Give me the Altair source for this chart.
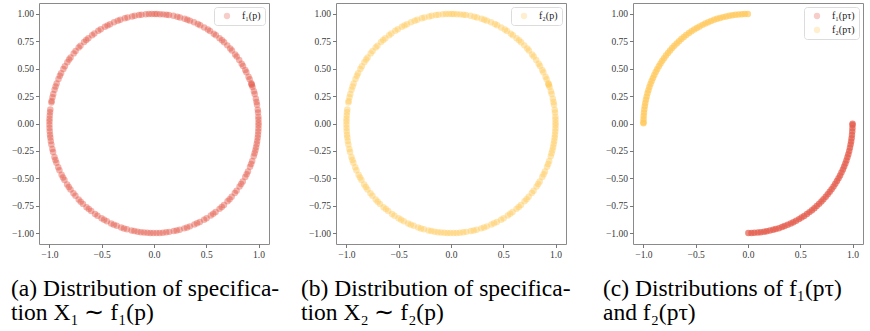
import altair as alt
import numpy as np
import pandas as pd

angles_spec = [0.4, 2.1, 3.5, 5.8, 7.2, 9.9, 11.3, 13.0, 15.6, 17.1, 19.4, 20.6, 21.0, 21.5, 23.8,
               25.3, 27.9, 29.2, 31.6, 33.0, 35.4, 37.7, 39.1, 41.8, 43.2, 45.5, 47.9, 49.4, 51.2,
               53.7, 55.1, 57.6, 59.0, 61.3, 63.8, 65.2, 67.5, 69.9, 71.4, 73.0, 75.6, 77.1, 79.3,
               81.8, 83.2, 85.0, 86.7, 88.4, 89.6, 91.2, 92.8, 94.5, 96.9, 98.3, 100.6, 102.1,
               104.7, 106.2, 108.8, 110.3, 112.5, 114.9, 116.4, 118.0, 120.6, 122.2, 124.8, 126.3,
               128.9, 130.4, 132.0, 134.7, 136.1, 138.6, 140.2, 142.9, 144.3, 146.0, 148.5, 150.1,
               152.7, 154.2, 156.0, 158.6, 160.3, 162.0, 164.4, 166.1, 168.2, 168.9, 172.6, 174.1,
               175.8, 177.5, 179.0, 180.6, 182.3, 184.1, 185.9, 187.4, 189.2, 191.0, 193.5, 195.1,
               197.8, 199.4, 201.0, 203.6, 205.2, 207.9, 209.5, 211.1, 213.8, 215.4, 217.0, 219.6,
               221.3, 223.9, 225.5, 227.2, 229.8, 231.4, 233.1, 235.7, 237.3, 239.9, 241.5, 243.2,
               245.8, 247.4, 249.1, 251.7, 253.3, 255.0, 257.6, 259.2, 261.0, 262.8, 264.5, 266.3,
               268.0, 269.6, 271.4, 273.1, 274.9, 276.7, 278.4, 280.9, 282.5, 284.2, 286.8, 288.4,
               290.1, 292.7, 294.3, 296.0, 298.6, 300.2, 302.9, 304.5, 306.1, 308.8, 310.4, 312.0,
               314.7, 316.3, 318.0, 320.6, 322.2, 324.9, 326.5, 328.1, 330.8, 332.4, 334.0, 336.7,
               338.3, 340.0, 342.6, 344.2, 345.9, 347.5, 349.2, 350.8, 352.5, 354.1, 355.8, 357.4,
               359.1]

angles_tau1 = [-89.8, -88.1, -86.5, -84.6, -83.0, -81.2, -79.7, -77.9, -76.1, -74.6, -72.8, -71.0,
               -69.5, -67.7, -65.9, -64.3, -62.6, -60.8, -59.2, -57.5, -55.7, -54.0, -52.3, -50.6,
               -48.9, -47.1, -45.4, -43.8, -42.0, -40.3, -38.6, -36.9, -35.1, -33.4, -31.7, -30.0,
               -28.3, -26.6, -24.8, -23.1, -21.4, -19.7, -18.0, -16.3, -14.5, -12.8, -11.1, -9.4,
               -7.7, -6.0, -4.2, -2.5, -0.8, -0.1]
angles_tau2 = [90.1, 91.8, 93.4, 95.2, 96.9, 98.6, 100.3, 102.1, 103.8, 105.5, 107.2, 108.9,
               110.7, 112.4, 114.1, 115.8, 117.6, 119.3, 121.0, 122.7, 124.4, 126.2, 127.9, 129.6,
               131.3, 133.0, 134.8, 136.5, 138.2, 139.9, 141.7, 143.4, 145.1, 146.8, 148.5, 150.3,
               152.0, 153.7, 155.4, 157.2, 158.9, 160.6, 162.3, 164.0, 165.8, 167.5, 169.2, 170.9,
               172.7, 174.4, 176.1, 177.8, 179.3, 179.9]

labels_a = ["f₁(p)"]
labels_b = ["f₂(p)"]
labels_c = ["f₁(pτ)", "f₂(pτ)"]
red = "#E45B4B"
yellow = "#FFC95C"

captions = [
    ["(a) Distribution of specifica-", "tion X₁ ∼ f₁(p)"],
    ["(b) Distribution of specifica-", "tion X₂ ∼ f₂(p)"],
    ["(c) Distributions of f₁(pτ)", "and f₂(pτ)"],
]

x_ticks = [-1.0, -0.5, 0.0, 0.5, 1.0]
y_ticks = [-1.0, -0.75, -0.5, -0.25, 0.0, 0.25, 0.5, 0.75, 1.0]

SERIF = "Liberation Serif"


def to_df(angles, label):
    a = np.radians(np.array(angles))
    return pd.DataFrame({"x": np.cos(a), "y": np.sin(a), "series": label})


def panel(df, labels, colors, caption, dx, opacity):
    return alt.Chart(df).mark_circle(size=42, opacity=opacity, strokeWidth=0).encode(
        x=alt.X("x:Q", scale=alt.Scale(domain=[-1.1, 1.1], nice=False, zero=False),
                axis=alt.Axis(values=x_ticks, format=".1f", title=None)),
        y=alt.Y("y:Q", scale=alt.Scale(domain=[-1.1, 1.1], nice=False, zero=False),
                axis=alt.Axis(values=y_ticks, format=".2f", title=None)),
        color=alt.Color("series:N", scale=alt.Scale(domain=labels, range=colors),
                        legend=alt.Legend(title=None, orient="top-right", offset=4,
                                          symbolOpacity=0.3)),
    ).properties(
        width=230, height=241,
        title=alt.TitleParams(text=caption, orient="bottom", anchor="start", frame="group",
                              dx=dx, offset=18, font=SERIF, fontSize=23.5,
                              fontWeight="normal", color="black", lineHeight=24, baseline="top"),
    )


p1 = panel(to_df(angles_spec, labels_a[0]), labels_a, [red], captions[0], -28, 0.45)
p2 = panel(to_df(angles_spec, labels_b[0]), labels_b, [yellow], captions[1], -35, 0.45)
df_c = pd.concat([to_df(angles_tau1, labels_c[0]), to_df(angles_tau2, labels_c[1])])
p3 = panel(df_c, labels_c, [red, yellow], captions[2], -30, 0.7)

chart = alt.hconcat(p1, p2, p3, spacing=67, bounds="flush").resolve_scale(
    color="independent", x="independent", y="independent"
).resolve_legend(
    color="independent"
).properties(
    padding={"left": 10, "top": 2, "right": 0, "bottom": 0}
).configure_view(
    stroke="#8a8a8a", strokeWidth=1
).configure_axis(
    labelFont=SERIF, labelFontSize=9.5, labelColor="#3a3a3a",
    tickColor="#777777", tickSize=3.5, domain=False, grid=False, labelPadding=2
).configure_legend(
    fillColor="white", strokeColor="#dcdcdc", cornerRadius=3, padding=4,
    labelFont=SERIF, labelFontSize=10, labelColor="#222222",
    symbolType="circle", symbolSize=40, symbolStrokeWidth=0, rowPadding=4,
    labelOffset=10, symbolOffset=4
)

chart.save("out.html", embed_options={"renderer": "svg", "actions": False})
